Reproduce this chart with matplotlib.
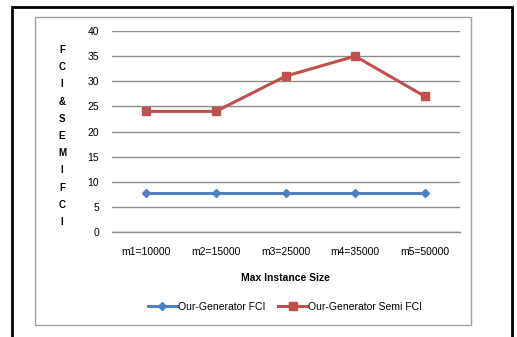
import numpy as np
import matplotlib.pyplot as plt
from matplotlib.patches import Rectangle
from matplotlib.lines import Line2D

plt.rcParams['font.family'] = ['Liberation Sans', 'DejaVu Sans']

# data
sizes = ['m1=10000', 'm2=15000', 'm3=25000', 'm4=35000', 'm5=50000']
fci = [7.8, 7.8, 7.8, 7.8, 7.8]
semi_fci = [24, 24, 31, 35, 27]
y_letters = ['F', 'C', 'I', '&', 'S', 'E', 'M', 'I', 'F', 'C', 'I']

W, H = 517, 337
fig = plt.figure(figsize=(W / 100, H / 100), dpi=100)
fig.patch.set_facecolor('white')

def px(x0, y0, x1, y1):
    # pixel box (top-left origin) -> figure fraction rect
    return [x0 / W, 1 - y1 / H, (x1 - x0) / W, (y1 - y0) / H]

# outer black border and inner gray chart frame
fig.patches.append(Rectangle((12 / W, -0.05), 500 / W, 1.05 - 7 / H,
                             transform=fig.transFigure, fill=False,
                             edgecolor='black', linewidth=2))
fig.patches.append(Rectangle((35 / W, 1 - 325 / H), 436 / W, 308 / H,
                             transform=fig.transFigure, fill=False,
                             edgecolor='#a0a0a0', linewidth=1))

ax = fig.add_axes(px(111.5, 31, 459.5, 232))
x = np.arange(len(sizes))
ax.plot(x, fci, color='#4F81BD', linewidth=2.2, marker='D', markersize=4.5,
        label='Our-Generator FCI')
ax.plot(x, semi_fci, color='#C0504D', linewidth=2.2, marker='s', markersize=6,
        label='Our-Generator Semi FCI')

ax.set_xlim(-0.5, len(sizes) - 0.5)
ax.set_ylim(0, 40)
ax.set_yticks(np.arange(0, 41, 5))
ax.set_xticks(x)
ax.set_xticklabels(sizes)
ax.grid(axis='y', color='#8c8c8c', linewidth=1)
ax.axhline(0, color='#8c8c8c', linewidth=1, clip_on=False, zorder=0.5)
ax.set_axisbelow(True)
for s in ax.spines.values():
    s.set_visible(False)
ax.tick_params(length=0, labelsize=7.5, colors='black')
ax.tick_params(axis='y', pad=9)
ax.tick_params(axis='x', pad=11)

# stacked vertical axis title
for i, ch in enumerate(y_letters):
    fig.text(62 / W, 1 - (50 + i * 17.2) / H, ch, fontsize=7, fontweight='bold',
             ha='center', va='center')

fig.text(285 / W, 1 - 278 / H, 'Max Instance Size', fontsize=7.5,
         fontweight='bold', ha='center', va='center')

handles = [Line2D([], [], color='#4F81BD', linewidth=2.2, marker='D', markersize=4.5),
           Line2D([], [], color='#C0504D', linewidth=2.2, marker='s', markersize=6)]
fig.legend(handles, ['Our-Generator FCI', 'Our-Generator Semi FCI'],
           loc='center', bbox_to_anchor=(285 / W, 1 - 307 / H), ncol=2,
           frameon=False, fontsize=7.5, handlelength=2.8, handletextpad=0.1,
           columnspacing=1.2)

fig.savefig('out.png', dpi=100)
